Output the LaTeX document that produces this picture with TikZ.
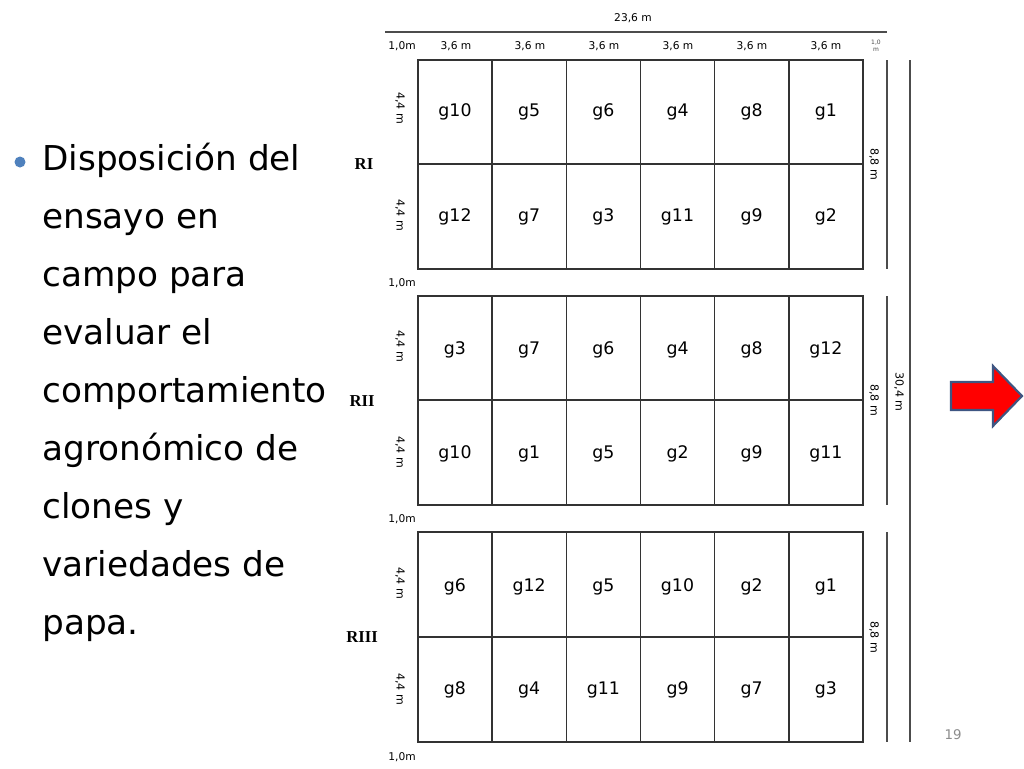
\documentclass[tikz,border=0pt]{standalone}
\usepackage{fontspec}
\setmainfont{DejaVu Sans}
\newfontfamily\rfont{Liberation Serif}
\definecolor{arrowborder}{RGB}{62,86,130}
\definecolor{bulletblue}{RGB}{79,129,189}
\begin{document}
\begin{tikzpicture}[x=0.75pt,y=-0.75pt,
  cell/.style={draw=black!80,line width=1.1pt},
  dimline/.style={draw=black!70,line width=1.3pt},
  glab/.style={font=\fontsize{13}{15}\selectfont},
  dlab/.style={font=\fontsize{8}{10}\selectfont},
  vlab/.style={font=\fontsize{8.3}{10}\selectfont,rotate=-90},
  rlab/.style={font=\rfont\bfseries\fontsize{12.5}{14}\selectfont},
  btext/.style={font=\fontsize{25.7}{43.5}\selectfont,align=left,anchor=north west,inner sep=0pt}]
\useasboundingbox (0,0) rectangle (1024,768);
\fill[white] (0,0) rectangle (1024,768);
% header
\node[dlab] (tot) at (633,18) {23,6 m};
\draw[dimline] (385,32) -- (887,32);
\node[dlab] (h0) at (402,46) {1,0m};
\foreach \i in {0,...,5}{
  \node[dlab] (hc\i) at ({456+74*\i},46) {3,6 m};
}
\node[font=\fontsize{4.5}{5}\selectfont,align=center,text=black!70] (hr) at (876,46) {1,0\\m};
% blocks
\def\gridblock#1#2#3{%
  \draw[cell] (418,#1) rectangle (863,#2);
  \draw[cell] (418,#3) -- (863,#3);
  \foreach \c in {1,...,5}{\draw[cell] ({418+74.17*\c},#1) -- ({418+74.17*\c},#2);}
}
\gridblock{60}{269}{164}
\gridblock{296}{505}{400}
\gridblock{532}{742}{637}
% cell labels
\foreach \lab [count=\k from 0] in {g10,g5,g6,g4,g8,g1}{\node[glab] (a\k) at ({455+74.17*\k},112) {\lab};}
\foreach \lab [count=\k from 0] in {g12,g7,g3,g11,g9,g2}{\node[glab] (b\k) at ({455+74.17*\k},217) {\lab};}
\foreach \lab [count=\k from 0] in {g3,g7,g6,g4,g8,g12}{\node[glab] (c\k) at ({455+74.17*\k},350) {\lab};}
\foreach \lab [count=\k from 0] in {g10,g1,g5,g2,g9,g11}{\node[glab] (d\k) at ({455+74.17*\k},454) {\lab};}
\foreach \lab [count=\k from 0] in {g6,g12,g5,g10,g2,g1}{\node[glab] (e\k) at ({455+74.17*\k},587) {\lab};}
\foreach \lab [count=\k from 0] in {g8,g4,g11,g9,g7,g3}{\node[glab] (f\k) at ({455+74.17*\k},690) {\lab};}
% left labels
\foreach \y/\n in {108/l1,215/l2,346/l3,452/l4,583/l5,689/l6}{\node[vlab] (\n) at (400,\y) {4,4 m};}
\node[rlab] (r1) at (364,164) {RI};
\node[rlab] (r2) at (362,401) {RII};
\node[rlab] (r3) at (362,637) {RIII};
\foreach \y/\n in {283/s1,519/s2,757/s3}{\node[dlab] (\n) at (402,\y) {1,0m};}
% right dimension lines
\draw[dimline] (887,60) -- (887,269);
\draw[dimline] (887,296) -- (887,505);
\draw[dimline] (887,532) -- (887,742);
\draw[dimline] (910,60) -- (910,742);
\node[vlab] (m1) at (874,164) {8,8 m};
\node[vlab] (m2) at (874,400) {8,8 m};
\node[vlab] (m3) at (874,637) {8,8 m};
\node[vlab] (tt) at (899,392) {30,4 m};
% arrow
\draw[draw=arrowborder,line width=1.6pt,fill=red,line join=miter]
  (951,382) -- (993,382) -- (993,366) -- (1022,396) -- (993,426) -- (993,410) -- (951,410) -- cycle;
% page number
\node[font=\fontsize{10}{12}\selectfont,text=black!45] (pg) at (953,735) {19};
% bullet text
\fill[bulletblue] (20,162) circle (5.5);
\node[btext] (txt) at (42,143) {Disposición del\\ensayo en\\campo para\\evaluar el\\comportamiento\\agronómico de\\clones y\\variedades de\\papa.};
\end{tikzpicture}
\end{document}
